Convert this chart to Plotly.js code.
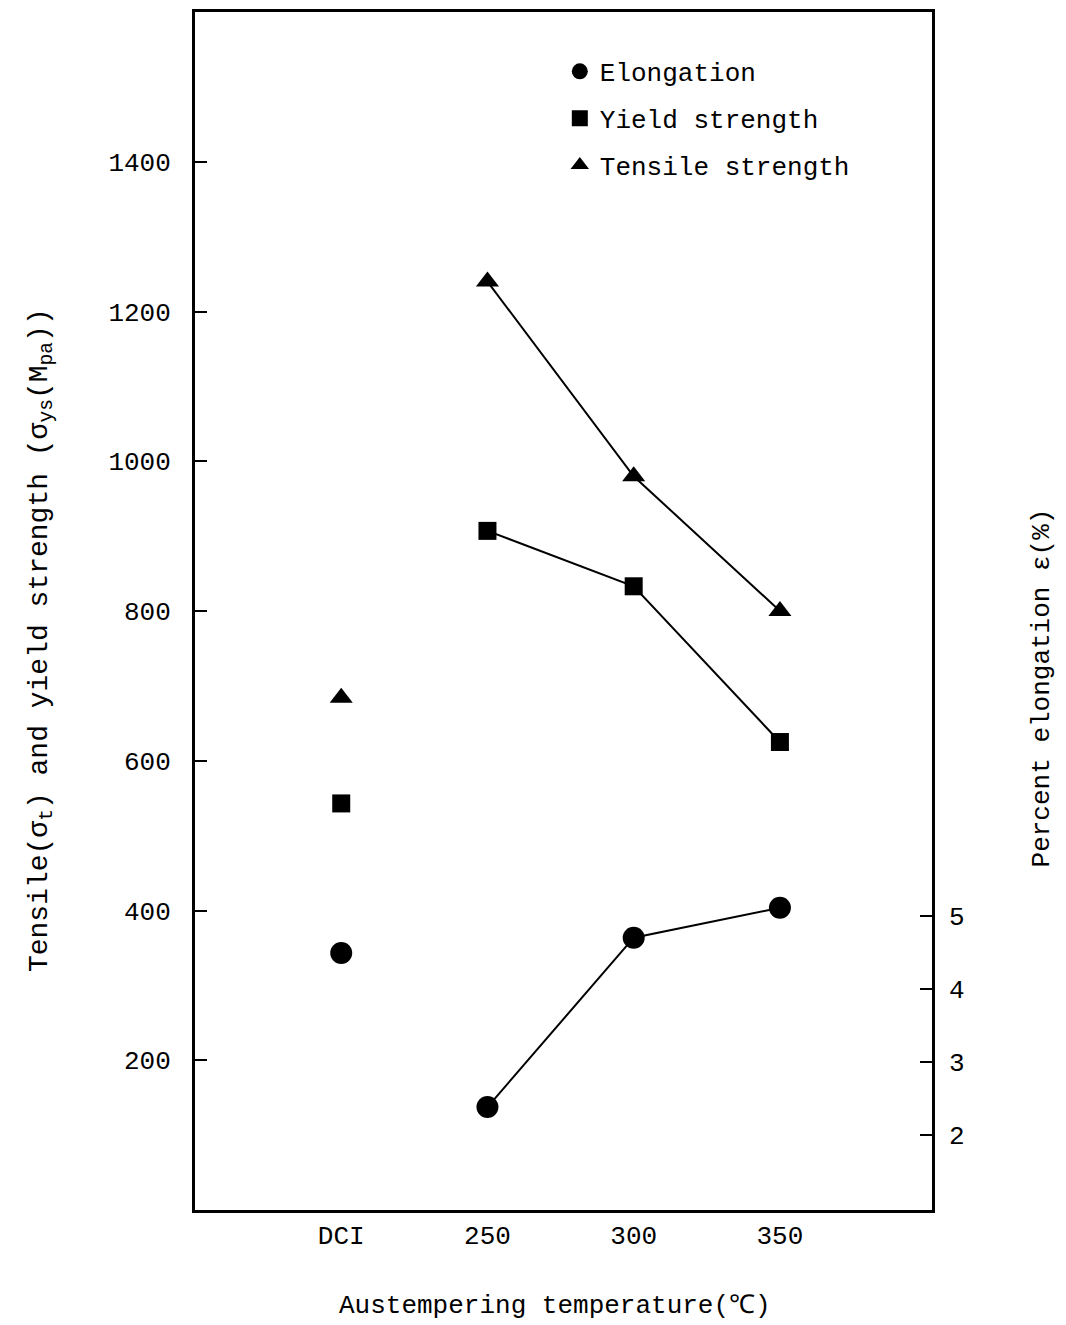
<!DOCTYPE html>
<html>
<head>
<meta charset="utf-8">
<script src="https://cdn.plot.ly/plotly-3.0.1.min.js"></script>
<style>body{margin:0;background:#fff}#chart{width:1066px;height:1325px}</style>
</head>
<body>
<div id="chart"></div>
<script>
// positions on x: DCI placed at 200, then austempering temperatures
const xDCI = [200];
const xTemps = [250, 300, 350];
const xTickVals = [200, 250, 300, 350];
const xTickText = ["DCI", "250", "300", "350"];

const tensileDCI = [684];
const tensileTemps = [1240, 980, 800];
const yieldDCI = [543];
const yieldTemps = [907, 833, 625];
const elongDCI = [4.49];
const elongTemps = [2.38, 4.7, 5.11];

const leftTicks = [200, 400, 600, 800, 1000, 1200, 1400];
const rightTicks = [2, 3, 4, 5];

const FONT = "Liberation Mono, DejaVu Sans Mono, monospace";
const black = "#000";

const traces = [
  {x: xDCI, y: elongDCI, yaxis: "y2", mode: "markers", name: "Elongation", legendgroup: "a",
   marker: {symbol: "circle", size: 22, color: black}},
  {x: xDCI, y: yieldDCI, mode: "markers", name: "Yield strength", legendgroup: "b",
   marker: {symbol: "square", size: 18, color: black}},
  {x: xDCI, y: tensileDCI, mode: "markers", name: "Tensile strength", legendgroup: "c",
   marker: {symbol: "triangle-up", size: 20, color: black}},
  {x: xTemps, y: elongTemps, yaxis: "y2", mode: "lines+markers", showlegend: false,
   line: {color: black, width: 2}, marker: {symbol: "circle", size: 22, color: black}},
  {x: xTemps, y: yieldTemps, mode: "lines+markers", showlegend: false,
   line: {color: black, width: 2}, marker: {symbol: "square", size: 18, color: black}},
  {x: xTemps, y: tensileTemps, mode: "lines+markers", showlegend: false,
   line: {color: black, width: 2}, marker: {symbol: "triangle-up", size: 20, color: black}}
];

const layout = {
  width: 1066, height: 1325,
  margin: {l: 195, r: 134, t: 12, b: 115},
  paper_bgcolor: "#fff", plot_bgcolor: "#fff",
  font: {family: FONT, size: 26, color: black},
  showlegend: true,
  legend: {x: 0.495, y: 0.97, xanchor: "left", yanchor: "top", bgcolor: "rgba(0,0,0,0)",
           font: {family: FONT, size: 26, color: black}, traceorder: "grouped", tracegroupgap: 10,
           itemwidth: 30},
  xaxis: {range: [150, 402], tickvals: xTickVals, ticktext: xTickText, ticks: "",
          showgrid: false, zeroline: false, showline: true, linecolor: black, linewidth: 3,
          mirror: true, tickfont: {family: FONT, size: 26}},
  yaxis: {range: [0, 1600], tickvals: leftTicks, ticks: "inside", ticklen: 12, tickwidth: 2,
          tickcolor: black, showgrid: false, zeroline: false, showline: true, linecolor: black,
          linewidth: 3, mirror: true, ticklabelstandoff: 16, tickfont: {family: FONT, size: 26}},
  yaxis2: {overlaying: "y", side: "right", range: [0.97, 17.38], tickvals: rightTicks,
           ticks: "inside", ticklen: 12, tickwidth: 2, tickcolor: black, showgrid: false,
           zeroline: false, showline: false, ticklabelstandoff: 16, tickfont: {family: FONT, size: 26}},
  annotations: [
    {xref: "paper", yref: "paper", x: -0.235, y: 0.476, textangle: -90, showarrow: false,
     text: "Tensile(σ<sub>t</sub>) and yield strength (σ<sub>ys</sub>(M<sub>pa</sub>))",
     font: {family: FONT, size: 28}},
    {xref: "paper", yref: "paper", x: 1.172, y: 0.436, textangle: -90, showarrow: false,
     text: "Percent elongation ε(%)", font: {family: FONT, size: 26}},
    {xref: "paper", yref: "paper", x: 0.489, y: -0.094, showarrow: false,
     text: "Austempering temperature(℃)", font: {family: FONT, size: 26}}
  ]
};

Plotly.newPlot("chart", traces, layout, {staticPlot: true});
</script>
</body>
</html>
